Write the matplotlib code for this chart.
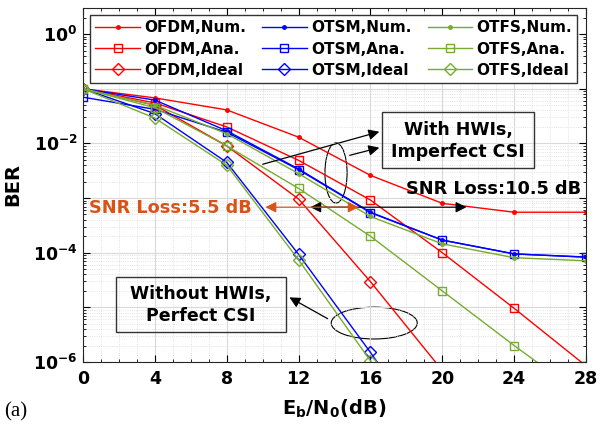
import matplotlib.pyplot as plt
import numpy as np
from matplotlib.patches import Ellipse
from matplotlib.ticker import FixedLocator, FuncFormatter, MultipleLocator, NullFormatter

plt.rcParams['font.family'] = ['DejaVu Sans']
plt.rcParams['font.weight'] = 'bold'
plt.rcParams['mathtext.fontset'] = 'dejavusans'

snr = [0, 4, 8, 12, 16, 20, 24, 28]

ofdm_num = [0.1, 0.068, 0.041, 0.013, 2.6e-3, 8.0e-4, 5.5e-4, 5.5e-4]
ofdm_ana = [0.1, 0.055, 0.020, 4.9e-3, 9.2e-4, 1.0e-4, 9.6e-6, 8.5e-7]
ofdm_ideal = [0.1, 0.050, 9.0e-3, 9.6e-4, 2.95e-5, 7e-7, 1.5e-8, 3e-10]
otsm_num = [0.1, 0.062, 0.017, 3.4e-3, 5.5e-4, 1.7e-4, 9.5e-5, 8.3e-5]
otsm_ana = [0.07, 0.042, 0.016, 3.3e-3, 5.4e-4, 1.7e-4, 9.5e-5, 8.3e-5]
otsm_ideal = [0.1, 0.035, 4.5e-3, 9.3e-5, 1.5e-6, 2e-8, 3e-10, 5e-12]
otfs_num = [0.1, 0.050, 0.015, 2.8e-3, 4.6e-4, 1.45e-4, 8.1e-5, 7.1e-5]
otfs_ana = [0.1, 0.045, 9.0e-3, 1.5e-3, 2.0e-4, 2.0e-5, 2.0e-6, 2.2e-7]
otfs_ideal = [0.1, 0.029, 4.0e-3, 7.4e-5, 1.05e-6, 1.5e-8, 2e-10, 3e-12]

red = (1, 0, 0)
blue = (0, 0, 1)
green = (0.466, 0.674, 0.188)
orange = (0.85, 0.325, 0.098)

fig = plt.figure(figsize=(6, 4.41), dpi=100)
ax = fig.add_axes([83 / 600, 1 - 362 / 441, 503 / 600, 354 / 441])

series = [
    (ofdm_num, red, '.', 'OFDM,Num.'),
    (ofdm_ana, red, 's', 'OFDM,Ana.'),
    (ofdm_ideal, red, 'D', 'OFDM,Ideal'),
    (otsm_num, blue, '.', 'OTSM,Num.'),
    (otsm_ana, blue, 's', 'OTSM,Ana.'),
    (otsm_ideal, blue, 'D', 'OTSM,Ideal'),
    (otfs_num, green, '.', 'OTFS,Num.'),
    (otfs_ana, green, 's', 'OTFS,Ana.'),
    (otfs_ideal, green, 'D', 'OTFS,Ideal'),
]
for vals, c, m, lab in series:
    ms = 5 if m == '.' else 6
    ax.semilogy(snr, vals, color=c, marker=m, ms=ms, mfc='none' if m != '.' else c,
                mew=1.0, lw=1.0, label=lab)

ax.set_xlim(0, 28)
ax.set_ylim(1e-6, 3)
ax.xaxis.set_major_locator(MultipleLocator(4))
ax.xaxis.set_minor_locator(MultipleLocator(1))
ax.yaxis.set_major_locator(FixedLocator([10.0 ** k for k in range(-6, 1)]))
ax.yaxis.set_minor_locator(FixedLocator([m * 10.0 ** k for k in range(-6, 1) for m in range(2, 10)]))
ax.yaxis.set_major_formatter(FuncFormatter(
    lambda v, p: r'$\mathbf{10^{%d}}$' % round(np.log10(v)) if round(np.log10(v)) % 2 == 0 else ''))
ax.yaxis.set_minor_formatter(NullFormatter())
ax.tick_params(which='both', direction='in', top=True, right=True)
ax.tick_params(axis='x', labelsize=12.5, pad=6)
ax.tick_params(axis='y', labelsize=12.5, pad=4)
ax.tick_params(which='major', length=5, width=0.8)
ax.tick_params(which='minor', length=2.5, width=0.6)
ax.grid(which='major', color='0.85', lw=0.8, ls='-')
ax.grid(which='minor', color='0.85', lw=0.6, ls=':')
for s in ax.spines.values():
    s.set_color('0.15')

ax.set_xlabel(r'$\mathbf{E_b/N_0}$(dB)', fontsize=14, fontweight='bold', labelpad=7)
ax.set_ylabel('BER', fontsize=14, fontweight='bold', labelpad=8)

leg = ax.legend(ncol=3, loc='upper left', bbox_to_anchor=(0.014, 0.98), borderaxespad=0,
                prop=dict(size=11, weight='bold'), handlelength=2.9, columnspacing=1.05,
                handletextpad=0.3, labelspacing=0.4, borderpad=0.35,
                fancybox=False, framealpha=1, edgecolor='0.2')
leg.get_frame().set_linewidth(1.0)


def fpx(x, y):
    return (x / 600, 1 - y / 441)


arrow = dict(arrowstyle='-|>', color='black', lw=0.9, mutation_scale=16)

# upper group: with HWIs
fig.text(*fpx(458, 141), 'With HWIs,\nImperfect CSI', fontsize=12.5, fontweight='bold',
         ha='center', va='center', linespacing=1.35)
fig.patches.append(plt.Rectangle(fpx(382, 168), 152 / 600, 56 / 441, transform=fig.transFigure,
                                 fill=False, ec='0.2', lw=1.0))
ax.annotate('', xy=fpx(382, 131), xytext=fpx(260, 165), xycoords='figure fraction',
            textcoords='figure fraction', arrowprops=arrow)
ax.annotate('', xy=fpx(382, 147), xytext=fpx(347, 156), xycoords='figure fraction',
            textcoords='figure fraction', arrowprops=arrow)
ax.add_patch(Ellipse((0.503, 0.534), 0.044, 0.17, transform=ax.transAxes,
                     fill=False, ec='black', lw=0.8))

# lower group: without HWIs
fig.text(*fpx(201, 305), 'Without HWIs,\nPerfect CSI', fontsize=12.5, fontweight='bold',
         ha='center', va='center', linespacing=1.35)
fig.patches.append(plt.Rectangle(fpx(116, 332), 170 / 600, 55 / 441, transform=fig.transFigure,
                                 fill=False, ec='0.2', lw=1.0))
ax.annotate('', xy=fpx(287, 296), xytext=fpx(330, 320), xycoords='figure fraction',
            textcoords='figure fraction', arrowprops=arrow)
ax.add_patch(Ellipse((0.579, 0.110), 0.171, 0.090, transform=ax.transAxes,
                     fill=False, ec='black', lw=0.8))

# SNR loss arrows
y_loss = 6.8e-4
ax.annotate('', xy=(12.5, y_loss), xytext=(21.5, y_loss),
            arrowprops=dict(arrowstyle='<|-|>', color='black', lw=0.9, mutation_scale=16))
ax.annotate('', xy=(10.0, y_loss), xytext=(15.5, y_loss),
            arrowprops=dict(arrowstyle='<|-|>', color=orange, lw=0.9, mutation_scale=16))

fig.text(*fpx(170, 208), 'SNR Loss:5.5 dB', color=orange, fontsize=12.8, fontweight='bold',
         ha='center', va='center')
fig.text(*fpx(494, 189), 'SNR Loss:10.5 dB', color='black', fontsize=12.8, fontweight='bold',
         ha='center', va='center')

fig.text(*fpx(4, 412), '(a)', family=['Liberation Serif', 'DejaVu Serif'], fontweight='normal',
         fontsize=15, ha='left', va='center')

fig.savefig('out.png', dpi=100)
